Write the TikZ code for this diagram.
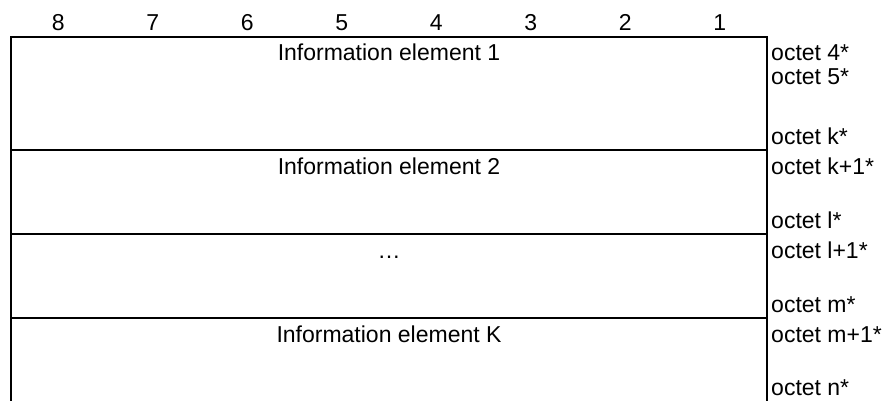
\documentclass[tikz,border=0pt]{standalone}
\usepackage{fontspec}
\setmainfont{Liberation Sans}
\usetikzlibrary{positioning}
\tikzset{
  bitno/.style={inner sep=0pt, anchor=base, font=\fontsize{23}{27}\selectfont},
  ietitle/.style={inner sep=0pt, anchor=base, font=\fontsize{23}{27}\selectfont},
  octet/.style={inner sep=0pt, anchor=base west, font=\fontsize{23}{27}\selectfont},
  rule/.style={line width=1.8pt},
}

\begin{document}
\begin{tikzpicture}[x=1pt,y=-1pt]
  \useasboundingbox (0,0) rectangle (885,401);
  % bit numbers above the columns
  \foreach \b in {1,...,8}
    \node[bitno] (bit\b) at ({11+(8.5-\b)*94.5},31) {\b};
  % frame, open at the bottom
  \draw[rule] (11,401) -- (11,37) -- (767,37) -- (767,401);
  \foreach \y/\n in {150/a,234/b,318/c} {
    \coordinate (L\n) at (11,\y);
    \coordinate (R\n) at (767,\y);
    \draw[rule] (L\n) -- (R\n);
  }
  % element titles
  \node[ietitle] (ie1) at (389,61) {Information element 1};
  \node[ietitle] (ie2) at (389,174) {Information element 2};
  \node[ietitle] (iedots) at (389,258) {…};
  \node[ietitle] (ieK) at (389,342) {Information element K};
  % octet numbers on the right
  \node[octet] (o4) at (771,61) {octet 4*};
  \node[octet] (o5) at (771,85) {octet 5*};
  \node[octet] (ok) at (771,144) {octet k*};
  \node[octet] (ok1) at (771,174) {octet k+1*};
  \node[octet] (ol) at (771,228) {octet l*};
  \node[octet] (ol1) at (771,258) {octet l+1*};
  \node[octet] (om) at (771,312) {octet m*};
  \node[octet] (om1) at (771,342) {octet m+1*};
  \node[octet] (on) at (771,395) {octet n*};
\end{tikzpicture}
\end{document}
